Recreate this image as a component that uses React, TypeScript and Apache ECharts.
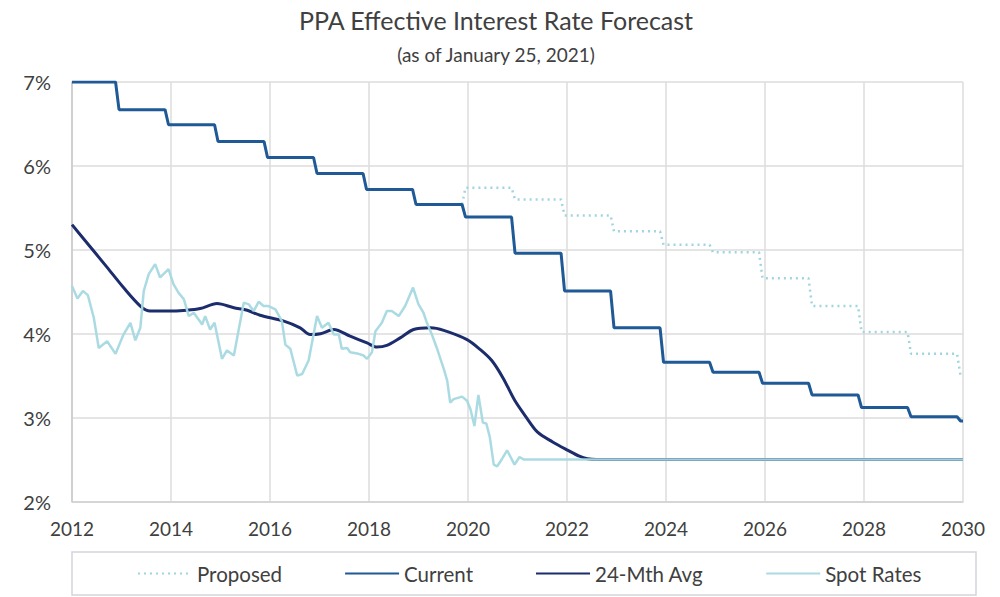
import React, { useEffect, useRef } from "react";
import * as echarts from "echarts";

// ---- Data ----
const currentYears = [2012, 2013, 2014, 2015, 2016, 2017, 2018, 2019, 2020, 2021, 2022, 2023, 2024, 2025, 2026, 2027, 2028, 2029, 2030];
const currentRates = [7.0, 6.67, 6.49, 6.29, 6.1, 5.91, 5.72, 5.54, 5.39, 4.96, 4.51, 4.07, 3.66, 3.54, 3.41, 3.27, 3.12, 3.01, 2.96];

const proposedYears = [2019, 2020, 2021, 2022, 2023, 2024, 2025, 2026, 2027, 2028, 2029, 2030];
const proposedRates = [5.54, 5.74, 5.6, 5.41, 5.22, 5.06, 4.97, 4.66, 4.33, 4.02, 3.76, 3.5];

const avgDates = [2012.0, 2012.25, 2012.71, 2013.04, 2013.38, 2013.58, 2013.92, 2014.32, 2014.59, 2014.93, 2015.27, 2015.54, 2015.8, 2016.28, 2016.61, 2016.81, 2017.02, 2017.29, 2017.62, 2017.96, 2018.16, 2018.36, 2018.63, 2018.9, 2019.24, 2019.51, 2019.98, 2020.25, 2020.48, 2020.71, 2020.94, 2021.17, 2021.4, 2021.71, 2022.02, 2022.25, 2022.41, 2022.6, 2030.0];
const avgRates = [5.3, 5.12, 4.79, 4.55, 4.33, 4.27, 4.27, 4.28, 4.3, 4.36, 4.31, 4.28, 4.22, 4.15, 4.07, 3.99, 4.0, 4.05, 3.97, 3.89, 3.84, 3.86, 3.95, 4.05, 4.07, 4.04, 3.93, 3.81, 3.68, 3.47, 3.21, 3.01, 2.83, 2.71, 2.61, 2.54, 2.51, 2.5, 2.5];

const spotDates = [2012.0, 2012.11, 2012.22, 2012.32, 2012.44, 2012.54, 2012.71, 2012.88, 2013.04, 2013.18, 2013.28, 2013.38, 2013.45, 2013.55, 2013.68, 2013.78, 2013.95, 2014.05, 2014.15, 2014.26, 2014.36, 2014.46, 2014.63, 2014.69, 2014.79, 2014.88, 2015.03, 2015.13, 2015.27, 2015.47, 2015.57, 2015.67, 2015.77, 2015.87, 2015.97, 2016.11, 2016.24, 2016.31, 2016.41, 2016.55, 2016.65, 2016.78, 2016.88, 2016.95, 2017.05, 2017.18, 2017.29, 2017.39, 2017.45, 2017.56, 2017.62, 2017.79, 2017.89, 2017.96, 2018.06, 2018.13, 2018.26, 2018.36, 2018.46, 2018.6, 2018.73, 2018.89, 2019.0, 2019.1, 2019.17, 2019.27, 2019.37, 2019.51, 2019.58, 2019.64, 2019.71, 2019.88, 2019.98, 2020.05, 2020.13, 2020.21, 2020.3, 2020.37, 2020.44, 2020.52, 2020.59, 2020.69, 2020.79, 2020.94, 2021.04, 2021.13, 2030.0];
const spotRates = [4.57, 4.42, 4.51, 4.46, 4.19, 3.83, 3.91, 3.76, 3.99, 4.13, 3.92, 4.07, 4.51, 4.71, 4.83, 4.67, 4.77, 4.59, 4.49, 4.41, 4.21, 4.25, 4.11, 4.21, 4.05, 4.13, 3.7, 3.8, 3.74, 4.37, 4.35, 4.27, 4.38, 4.33, 4.33, 4.29, 4.15, 3.87, 3.82, 3.5, 3.52, 3.68, 3.99, 4.21, 4.07, 4.13, 3.99, 3.99, 3.82, 3.83, 3.78, 3.76, 3.74, 3.7, 3.78, 4.03, 4.13, 4.27, 4.27, 4.21, 4.33, 4.55, 4.35, 4.25, 4.13, 3.99, 3.83, 3.58, 3.44, 3.18, 3.22, 3.25, 3.2, 3.1, 2.9, 3.27, 2.94, 2.93, 2.77, 2.44, 2.42, 2.51, 2.61, 2.44, 2.53, 2.5, 2.5];

const xTicks = ["2012", "2014", "2016", "2018", "2020", "2022", "2024", "2026", "2028", "2030"];
const seriesNames = ["Proposed", "Current", "24-Mth Avg", "Spot Rates"];

const FONT = "Lato, 'Open Sans', sans-serif";
const TEXT = "#404040";

// Rate for plan year Y takes effect late in year Y-1 (about mid-November), with a ~1 month transition.
const CHANGE_AT = 0.88;
const CHANGE_LEN = 0.07;
function stepPoints(years: number[], rates: number[], startAtFirstChange: boolean) {
  const pts: number[][] = [];
  if (!startAtFirstChange) pts.push([years[0], rates[0]]);
  for (let i = 1; i < years.length; i++) {
    const t = years[i] - 1 + CHANGE_AT;
    pts.push([t, rates[i - 1]]);
    pts.push([t + CHANGE_LEN, rates[i]]);
  }
  pts.push([years[years.length - 1], rates[rates.length - 1]]);
  return pts;
}
const zip = (a: number[], b: number[]) => a.map((v, i) => [v, b[i]]);

export default function App() {
  const ref = useRef<HTMLDivElement>(null);
  useEffect(() => {
    if (!ref.current) return;
    const chart = echarts.init(ref.current, null, { renderer: "svg" });
    chart.setOption({
      animation: false,
      backgroundColor: "#ffffff",
      textStyle: { fontFamily: FONT },
      grid: { left: 72, right: 37, top: 82, bottom: 95.5, containLabel: false },
      xAxis: {
        type: "value",
        min: 2012,
        max: 2030,
        interval: 2,
        axisLine: { show: true, lineStyle: { color: "#d0d0d0", width: 1.5 } },
        axisTick: { show: false },
        splitLine: { show: true, lineStyle: { color: "#dcdcdc", width: 1.5 } },
        axisLabel: {
          color: TEXT,
          fontSize: 19,
          fontFamily: FONT,
          margin: 17,
          formatter: (v: number) => xTicks[Math.round((v - 2012) / 2)] ?? String(v),
        },
      },
      yAxis: {
        type: "value",
        min: 2,
        max: 7,
        interval: 1,
        axisLine: { show: true, lineStyle: { color: "#c8c8c8", width: 1.5 } },
        axisTick: { show: false },
        splitLine: { show: true, lineStyle: { color: "#dcdcdc", width: 1.5 } },
        axisLabel: {
          color: TEXT,
          fontSize: 20,
          fontFamily: FONT,
          margin: 21,
          formatter: (v: number) => `${v}%`,
        },
      },
      legend: {
        data: seriesNames,
        left: 132,
        top: 558,
        itemWidth: 54,
        itemHeight: 12,
        itemGap: 62,
        itemStyle: { opacity: 0 },
        textStyle: { color: TEXT, fontSize: 20.5, fontFamily: FONT },
      },
      graphic: [
        {
          type: "text",
          x: 496,
          y: 20,
          style: { text: "PPA Effective Interest Rate Forecast", fill: TEXT, font: `25px ${FONT}`, textAlign: "center", textVerticalAlign: "middle" },
        },
        {
          type: "text",
          x: 496,
          y: 54,
          style: { text: "(as of January 25, 2021)", fill: TEXT, font: `19px ${FONT}`, textAlign: "center", textVerticalAlign: "middle" },
        },
        {
          type: "rect",
          shape: { x: 72, y: 552, width: 904, height: 43 },
          style: { fill: "none", stroke: "#d3d3dd", lineWidth: 1.5 },
        },
      ],
      series: [
        {
          name: "Proposed",
          type: "line",
          data: stepPoints(proposedYears, proposedRates, true),
          symbol: "none",
          lineStyle: { color: "#9fd5df", width: 2.5, type: [2, 4] },
          itemStyle: { color: "#9fd5df" },
        },
        {
          name: "Current",
          type: "line",
          data: stepPoints(currentYears, currentRates, false),
          symbol: "none",
          lineStyle: { color: "#1f5a96", width: 3 },
          itemStyle: { color: "#1f5a96" },
        },
        {
          name: "24-Mth Avg",
          type: "line",
          data: zip(avgDates, avgRates),
          symbol: "none",
          smooth: 0.3,
          lineStyle: { color: "#1c2c6c", width: 3 },
          itemStyle: { color: "#1c2c6c" },
        },
        {
          name: "Spot Rates",
          type: "line",
          data: zip(spotDates, spotRates),
          symbol: "none",
          lineStyle: { color: "#a6d9e0", width: 2.5, opacity: 0.95 },
          itemStyle: { color: "#a6d9e0" },
        },
      ],
    });
    return () => chart.dispose();
  }, []);
  return <div ref={ref} style={{ position: "fixed", left: 0, top: 0, width: 1000, height: 597 }} />;
}
